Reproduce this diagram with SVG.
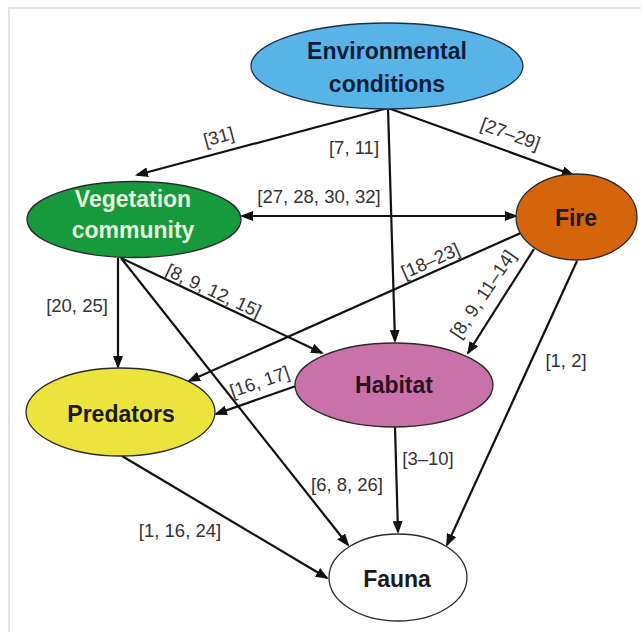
<svg xmlns="http://www.w3.org/2000/svg" width="641" height="632" viewBox="0 0 641 632">
  <defs>
    <marker id="arrow" viewBox="0 0 13 10" refX="11" refY="5" markerWidth="13" markerHeight="10" markerUnits="userSpaceOnUse" orient="auto-start-reverse">
      <path d="M0,0 L13,5 L0,10 z" fill="#111"/>
    </marker>
  </defs>
  <style>
    .node ellipse { stroke: #2a2a2a; stroke-width: 1.3; }
    .node text { font-family: "Liberation Sans", Arial, sans-serif; font-weight: bold; font-size: 23px; text-anchor: middle; fill: #1a1a1a; }
    .edge { fill: none; stroke: #111; stroke-width: 2.2; marker-end: url(#arrow); }
    .lbl { font-family: "Liberation Sans", Arial, sans-serif; font-size: 18.5px; fill: #333; text-anchor: middle; }
  </style>

  <rect width="641" height="632" fill="#fff"/>
  <!-- frame -->
  <path d="M9,632 V8 H641" fill="none" stroke="#e2e2e2" stroke-width="2"/>

  <g id="connectors">
    <line class="edge" x1="388" y1="108" x2="137" y2="175"/>
    <line class="edge" x1="388" y1="108" x2="573" y2="175"/>
    <line class="edge" x1="388" y1="108" x2="395" y2="341"/>
    <line class="edge" x1="242" y1="216" x2="516" y2="216" marker-start="url(#arrow)"/>
    <line class="edge" x1="118" y1="258" x2="118" y2="367"/>
    <line class="edge" x1="121" y1="258" x2="322" y2="353"/>
    <line class="edge" x1="121" y1="258" x2="348" y2="545"/>
    <line class="edge" x1="523" y1="232" x2="189" y2="381"/>
    <line class="edge" x1="534" y1="249" x2="468" y2="353"/>
    <line class="edge" x1="577" y1="261" x2="447" y2="545"/>
    <line class="edge" x1="296" y1="386" x2="216" y2="414"/>
    <line class="edge" x1="395" y1="427" x2="398" y2="532"/>
    <line class="edge" x1="122" y1="456" x2="327" y2="578"/>

    <text class="lbl" transform="translate(219,138) rotate(-15)" y="5">[31]</text>
    <text class="lbl" x="354" y="154">[7, 11]</text>
    <text class="lbl" transform="translate(510,135) rotate(20)" y="5">[27–29]</text>
    <text class="lbl" x="319" y="203">[27, 28, 30, 32]</text>
    <text class="lbl" x="77" y="312">[20, 25]</text>
    <text class="lbl" transform="translate(213,292) rotate(25)" y="5">[8, 9, 12, 15]</text>
    <text class="lbl" transform="translate(431,262) rotate(-24)" y="5">[18–23]</text>
    <text class="lbl" transform="translate(484,295) rotate(-56)" y="5">[8, 9, 11–14]</text>
    <text class="lbl" x="566" y="367">[1, 2]</text>
    <text class="lbl" transform="translate(260,383) rotate(-19)" y="5">[16, 17]</text>
    <text class="lbl" x="428" y="465">[3–10]</text>
    <text class="lbl" x="347" y="491">[6, 8, 26]</text>
    <text class="lbl" x="180" y="537">[1, 16, 24]</text>
  </g>

  <g id="environmental-conditions" class="node">
    <ellipse cx="387" cy="66" rx="136" ry="43" fill="#58b3e6" style="stroke:#1d2f4a"/>
    <text x="387" y="59" style="fill:#0f1d3a">Environmental</text>
    <text x="387" y="92" style="fill:#0f1d3a">conditions</text>
  </g>

  <g id="vegetation-community" class="node">
    <ellipse cx="134" cy="219.5" rx="107" ry="38" fill="#17993d"/>
    <text x="133" y="207" style="fill:#e6f6dc">Vegetation</text>
    <text x="133" y="238" style="fill:#e6f6dc">community</text>
  </g>

  <g id="fire" class="node">
    <ellipse cx="576.5" cy="217" rx="60.5" ry="43" fill="#d5650c"/>
    <text x="576" y="226">Fire</text>
  </g>

  <g id="habitat" class="node">
    <ellipse cx="394" cy="385" rx="99" ry="42" fill="#c972a9"/>
    <text x="394" y="393" style="fill:#2a1020">Habitat</text>
  </g>

  <g id="predators" class="node">
    <ellipse cx="120.5" cy="412" rx="94.5" ry="44" fill="#ece33d"/>
    <text x="121" y="422">Predators</text>
  </g>

  <g id="fauna" class="node">
    <ellipse cx="398" cy="577.5" rx="69" ry="43.5" fill="#fff"/>
    <text x="397" y="587">Fauna</text>
  </g>
</svg>
